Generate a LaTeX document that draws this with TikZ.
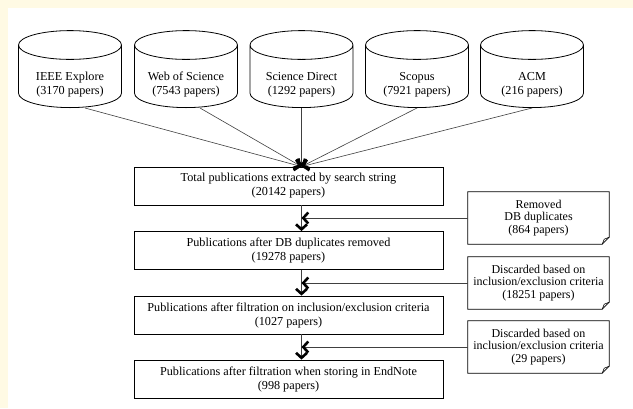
\documentclass[tikz,border=0pt]{standalone}
\usepackage{fontspec}
\setmainfont{Liberation Serif}
\usetikzlibrary{shapes.geometric,arrows.meta}

\definecolor{cream}{RGB}{255,250,228}

\tikzset{
  db/.style={cylinder, shape border rotate=90, draw, line width=0.8pt, aspect=0.36,
    minimum width=103pt, minimum height=77pt, inner sep=0pt,
    text width=80pt, text height=9pt, text depth=17pt, label={[dbtext]center:#1}},
  dbtext/.style={align=center, yshift=-8pt, inner sep=0pt,
    font=\fontsize{12.2}{14}\selectfont},
  stage/.style={rectangle, draw, line width=0.8pt, minimum width=309pt,
    minimum height=38pt, align=center, font=\fontsize{12.2}{14}\selectfont},
  note/.style={rectangle, minimum width=141pt, minimum height=52pt, align=center,
    font=\fontsize{12}{12.4}\selectfont},
  flow/.style={line width=0.6pt, draw=black!75,
    -{Straight Barb[length=5pt, width=11pt, line width=2.6pt, black]}},
}

\begin{document}
\begin{tikzpicture}[x=1pt, y=-1pt]
  \fill[cream] (0,0) rectangle (633,408);
  \fill[white] (8,8) rectangle (633,408);
  \useasboundingbox (0,0) rectangle (633,408);

  % databases
  \node[db={IEEE Explore\\(3170 papers)}]   (c1) at (70,76.5)    {};
  \node[db={Web of Science\\(7543 papers)}] (c2) at (186,76.5)   {};
  \node[db={Science Direct\\(1292 papers)}] (c3) at (301.5,76.5) {};
  \node[db={Scopus\\(7921 papers)}]         (c4) at (417,76.5)   {};
  \node[db={ACM\\(216 papers)}]             (c5) at (532,76.5)   {};

  % stages
  \node[stage] (b1) at (288.5,186)   {Total publications extracted by search string\\(20142 papers)};
  \node[stage] (b2) at (288.5,250.5) {Publications after DB duplicates removed\\(19278 papers)};
  \node[stage] (b3) at (288.5,315)   {Publications after filtration on inclusion/exclusion criteria\\(1027 papers)};
  \node[stage] (b4) at (288.5,379)   {Publications after filtration when storing in EndNote\\(998 papers)};

  % removed papers
  \node[note] (n1) at (538.5,218) {Removed\\DB duplicates\\(864 papers)};
  \node[note] (n2) at (538.5,283) {Discarded based on\\inclusion/exclusion criteria\\(18251 papers)};
  \node[note] (n3) at (538.5,347) {Discarded based on\\inclusion/exclusion criteria\\(29 papers)};
  \foreach \n in {n1,n2,n3} {
    \draw[line width=0.8pt] (\n.north west) -- (\n.north east)
      -- ([yshift=7pt]\n.south east) -- ([xshift=-7pt]\n.south east)
      -- (\n.south west) -- cycle;
    \draw[line width=0.6pt] ([xshift=-7pt]\n.south east)
      -- ([xshift=-5pt,yshift=5pt]\n.south east) -- ([yshift=7pt]\n.south east);
  }

  \coordinate (hub) at (b1.north -| c3);
  \draw[flow] ([xshift=15pt]c1.south) -- (hub);
  \draw[flow] ([xshift=14pt]c2.south) -- (hub);
  \draw[flow] (c3.south) -- (hub);
  \draw[flow] (c4.south) -- (hub);
  \draw[flow] (c5.south) -- (hub);

  \draw[flow] (b1.south -| c3) -- (b2.north -| c3);
  \draw[flow] (b2.south -| c3) -- (b3.north -| c3);
  \draw[flow] (b3.south -| c3) -- (b4.north -| c3);

  \draw[flow] (n1.west) -- (n1.west -| c3);
  \draw[flow] (n2.west) -- (n2.west -| c3);
  \draw[flow] (n3.west) -- (n3.west -| c3);
\end{tikzpicture}
\end{document}
